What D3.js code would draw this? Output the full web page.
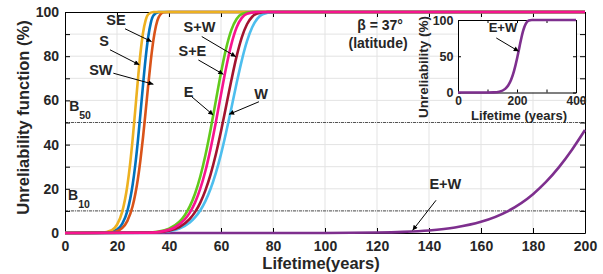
<!DOCTYPE html>
<html>
<head>
<meta charset="utf-8">
<script src="https://cdn.jsdelivr.net/npm/d3@7"></script>
<style>
  body { margin: 0; background: #fff; }
  svg text { font-family: Arial, "Liberation Sans", sans-serif; font-weight: bold; fill: #262626; }
</style>
</head>
<body>
<svg id="chart" width="603" height="274"></svg>
<script>
// lifetime (years) / unreliability (%)
const sT   = [0, 14, 18, 20, 22, 24, 25, 26, 27, 28, 29, 30, 31, 32, 34, 36, 200]
const sF   = [0, 0.1, 1.29, 3.74, 9.55, 21.59, 30.82, 42.23, 55.32, 68.84, 81.11, 90.49, 96.25, 98.93, 99.98, 100, 100]
const seT  = [0, 16, 20, 22, 24, 26, 27, 28, 29, 30, 31, 32, 33, 34, 36, 38, 200]
const seF  = [0, 0.15, 1.53, 4.12, 9.99, 21.71, 30.5, 41.36, 53.82, 66.84, 78.97, 88.66, 95.08, 98.38, 99.95, 100, 100]
const swT  = [0, 18, 22, 24, 26, 28, 29, 30, 31, 32, 33, 34, 35, 36, 38, 40, 200]
const swF  = [0, 0.29, 2.27, 5.49, 12.11, 24.23, 32.88, 43.22, 54.79, 66.78, 78.01, 87.29, 93.8, 97.58, 99.85, 100, 100]
const eT   = [0, 30, 36, 40, 44, 46, 48, 50, 52, 54, 56, 58, 60, 62, 64, 66, 68, 72, 76, 200]
const eF   = [0, 0.1, 0.65, 1.92, 5.08, 7.93, 12.03, 17.76, 25.44, 35.19, 46.84, 59.7, 72.48, 83.66, 91.93, 96.85, 99.1, 99.98, 100, 100]
const wT   = [0, 34, 40, 44, 48, 50, 52, 54, 56, 58, 60, 62, 64, 66, 68, 70, 72, 74, 76, 80, 84, 200]
const wF   = [0, 0.16, 0.8, 2.04, 4.75, 7.03, 10.17, 14.43, 19.99, 27.07, 35.68, 45.68, 56.6, 67.76, 78.13, 86.8, 93.09, 96.99, 98.95, 99.95, 100, 100]
const swpT = [0, 34, 40, 44, 48, 50, 52, 54, 56, 58, 60, 62, 64, 66, 68, 70, 72, 74, 78, 82, 200]
const swpF = [0, 0.21, 1.05, 2.71, 6.37, 9.43, 13.65, 19.3, 26.56, 35.52, 46.06, 57.59, 69.21, 79.91, 88.53, 94.47, 97.86, 99.36, 99.98, 100, 100]
const sepT = [0, 32, 38, 42, 46, 48, 50, 52, 54, 56, 58, 60, 62, 64, 66, 68, 70, 74, 78, 200]
const sepF = [0, 0.14, 0.85, 2.38, 6.01, 9.21, 13.74, 19.94, 28.06, 38.18, 50, 62.71, 75.05, 85.49, 92.99, 97.35, 99.26, 99.98, 100, 100]
const ewT  = [0, 60, 100, 120, 130, 140, 150, 160, 170, 180, 185, 190, 195, 200]
const ewF  = [0, 0, 0.03, 0.21, 0.51, 1.16, 2.49, 5.05, 9.7, 17.58, 23.1, 29.81, 37.7, 46.6]
// inset, 0-400 years
const ewInT = [0, 60, 100, 120, 140, 160, 170, 180, 190, 200, 205, 210, 215, 220, 225, 230, 240, 250, 260, 400]
const ewInF = [0, 0, 0.03, 0.21, 1.16, 5.05, 9.7, 17.58, 29.81, 46.6, 56.29, 66.16, 75.59, 83.86, 90.4, 94.99, 99.2, 99.95, 100, 100]

const xTicks = d3.range(0, 201, 20)
const yTicks = d3.range(0, 101, 10)
const bLines = [50, 10]

// plot order matters: pink ends up on top
const series = [
    {t: seT,  f: seF,  color: '#0072BD'},
    {t: swT,  f: swF,  color: '#D95319'},
    {t: sT,   f: sF,   color: '#EDB120'},
    {t: ewT,  f: ewF,  color: '#7E2F8E'},
    {t: eT,   f: eF,   color: '#62CA1C'},
    {t: wT,   f: wF,   color: '#4DBEEE'},
    {t: swpT, f: swpF, color: '#A2142F'},
    {t: sepT, f: sepF, color: '#F7148F'}
]

// annotations in data units: label [t, F], arrow tail -> head
const notes = [
    {txt: 'SE',  lab: [19.6, 94.2], from: [23.1, 92.4], to: [33.3, 86.6]},
    {txt: 'S',   lab: [15.0, 84.4], from: [17.3, 82.9], to: [28.6, 76.1]},
    {txt: 'SW',  lab: [13.8, 71.5], from: [18.6, 72.3], to: [34.0, 67.3]},
    {txt: 'S+W', lab: [51.7, 90.8], from: [52.6, 88.9], to: [65.7, 79.8]},
    {txt: 'S+E', lab: [49.0, 79.9], from: [51.3, 78.3], to: [60.9, 71.8]},
    {txt: 'E',   lab: [47.5, 61.5], from: [48.7, 61.7], to: [57.0, 53.4]},
    {txt: 'W',   lab: [75.4, 60.6], from: [74.6, 59.4], to: [63.1, 53.7]},
    {txt: 'E+W', lab: [146.3, 19.8], from: [142.7, 14.8], to: [133.7, 1.2]}
]

svg = d3.select('#chart')

x = d3.scaleLinear().domain([0, 200]).range([65, 585])
y = d3.scaleLinear().domain([0, 100]).range([233, 12])

svg.append('defs').append('marker')
    .attr('id', 'arr')
    .attr('viewBox', '0 0 10 10')
    .attr('refX', 10).attr('refY', 5)
    .attr('markerWidth', 7).attr('markerHeight', 5)
    .attr('markerUnits', 'userSpaceOnUse')
    .attr('orient', 'auto')
    .append('path').attr('d', 'M0,0 L10,5 L0,10 Z').attr('fill', '#000')

// grid
svg.append('g').selectAll('line').data(xTicks.slice(1, -1)).join('line')
    .attr('x1', d => x(d)).attr('x2', d => x(d))
    .attr('y1', y(0)).attr('y2', y(100))
    .attr('stroke', '#e3e3e3')
svg.append('g').selectAll('line').data(yTicks.slice(1, -1)).join('line')
    .attr('x1', x(0)).attr('x2', x(200))
    .attr('y1', d => y(d)).attr('y2', d => y(d))
    .attr('stroke', '#e3e3e3')

// B50 / B10 lines
svg.append('g').selectAll('line').data(bLines).join('line')
    .attr('x1', x(0)).attr('x2', x(200))
    .attr('y1', d => y(d)).attr('y2', d => y(d))
    .attr('stroke', '#555').attr('stroke-dasharray', '3,1,1,1')

function styleAxis(g, labels) {
    g.select('.domain').attr('stroke', '#000')
    g.selectAll('.tick line').attr('stroke', '#000')
    g.selectAll('.tick text').style('font-size', labels + 'px').attr('fill', '#262626')
}

svg.append('g').attr('transform', `translate(0,${y(0)})`)
    .call(d3.axisBottom(x).tickValues(xTicks).tickSize(-5).tickPadding(8).tickSizeOuter(0))
    .call(g => styleAxis(g, 14))
svg.append('g').attr('transform', `translate(0,${y(100)})`)
    .call(d3.axisTop(x).tickValues(xTicks).tickSize(-5).tickFormat('').tickSizeOuter(0))
    .call(g => styleAxis(g, 14))
svg.append('g').attr('transform', `translate(${x(0)},0)`)
    .call(d3.axisLeft(y).tickValues(yTicks).tickSize(-5).tickPadding(6).tickSizeOuter(0)
        .tickFormat(d => d % 20 == 0 ? d : ''))
    .call(g => styleAxis(g, 14))
svg.append('g').attr('transform', `translate(${x(200)},0)`)
    .call(d3.axisRight(y).tickValues(yTicks).tickSize(-5).tickFormat('').tickSizeOuter(0))
    .call(g => styleAxis(g, 14))

// curves
line = d3.line().x(d => x(d[0])).y(d => y(d[1])).curve(d3.curveMonotoneX)
series.forEach(s => {
    svg.append('path')
        .attr('d', line(s.t.map((t, i) => [t, s.f[i]])))
        .attr('fill', 'none')
        .attr('stroke', s.color)
        .attr('stroke-width', 2.6)
})

// annotations
notes.forEach(n => {
    svg.append('line')
        .attr('x1', x(n.from[0])).attr('y1', y(n.from[1]))
        .attr('x2', x(n.to[0])).attr('y2', y(n.to[1]))
        .attr('stroke', '#000').attr('stroke-width', 1)
        .attr('marker-end', 'url(#arr)')
    svg.append('text')
        .attr('x', x(n.lab[0])).attr('y', y(n.lab[1]))
        .attr('text-anchor', 'middle')
        .style('font-size', '14.5px').attr('fill', '#000')
        .text(n.txt)
})

// B50 / B10 labels
const bLab = [[1.6, 55.2, '50'], [1.2, 14.8, '10']]
bLab.forEach(b => {
    t = svg.append('text').attr('x', x(b[0])).attr('y', y(b[1]))
        .style('font-size', '14px').attr('fill', '#000')
    t.append('tspan').text('B')
    t.append('tspan').attr('dy', 8).style('font-size', '10.5px').text(b[2])
})

svg.append('text').attr('x', x(121.2)).attr('y', y(91.9)).attr('text-anchor', 'middle')
    .style('font-size', '14px').attr('fill', '#000').text('β = 37°')
svg.append('text').attr('x', x(120.4)).attr('y', y(83.8)).attr('text-anchor', 'middle')
    .style('font-size', '14px').attr('fill', '#000').text('(latitude)')

// axis titles
svg.append('text').attr('x', 321).attr('y', 268.5).attr('text-anchor', 'middle')
    .style('font-size', '16.5px').text('Lifetime(years)')
svg.append('text').attr('transform', 'translate(29,117.5) rotate(-90)').attr('text-anchor', 'middle')
    .style('font-size', '16.5px').text('Unreliability function (%)')

// inset
xi = d3.scaleLinear().domain([0, 400]).range([458, 576])
yi = d3.scaleLinear().domain([0, 100]).range([92.5, 20])

svg.append('rect').attr('x', xi(0)).attr('y', yi(100))
    .attr('width', xi(400) - xi(0)).attr('height', yi(0) - yi(100))
    .attr('fill', '#fff')

svg.append('g').attr('transform', `translate(0,${yi(0)})`)
    .call(d3.axisBottom(xi).tickValues([0, 100, 200, 300, 400]).tickSize(-3).tickPadding(4).tickSizeOuter(0)
        .tickFormat(d => d % 200 == 0 ? d : ''))
    .call(g => styleAxis(g, 12))
svg.append('g').attr('transform', `translate(0,${yi(100)})`)
    .call(d3.axisTop(xi).tickValues([0, 100, 200, 300, 400]).tickSize(-3).tickFormat('').tickSizeOuter(0))
    .call(g => styleAxis(g, 12))
svg.append('g').attr('transform', `translate(${xi(0)},0)`)
    .call(d3.axisLeft(yi).tickValues([0, 50, 100]).tickSize(-3).tickPadding(4.5).tickSizeOuter(0))
    .call(g => styleAxis(g, 12.5))
svg.append('g').attr('transform', `translate(${xi(400)},0)`)
    .call(d3.axisRight(yi).tickValues([0, 50, 100]).tickSize(-3).tickFormat('').tickSizeOuter(0))
    .call(g => styleAxis(g, 12))

lineIn = d3.line().x(d => xi(d[0])).y(d => yi(d[1])).curve(d3.curveMonotoneX)
svg.append('path')
    .attr('d', lineIn(ewInT.map((t, i) => [t, ewInF[i]])))
    .attr('fill', 'none').attr('stroke', '#7E2F8E').attr('stroke-width', 2.6)

svg.append('line')
    .attr('x1', xi(129.8)).attr('y1', yi(75.2))
    .attr('x2', xi(205.8)).attr('y2', yi(56.8))
    .attr('stroke', '#000').attr('marker-end', 'url(#arr)')
svg.append('text').attr('x', xi(152.5)).attr('y', yi(83.4)).attr('text-anchor', 'middle')
    .style('font-size', '13px').attr('fill', '#000').text('E+W')

svg.append('text').attr('x', 519).attr('y', 119.5).attr('text-anchor', 'middle')
    .style('font-size', '13px').text('Lifetime (years)')
svg.append('text').attr('transform', 'translate(428,67) rotate(-90)').attr('text-anchor', 'middle')
    .style('font-size', '13.5px').text('Unreliability (%)')
</script>
</body>
</html>
